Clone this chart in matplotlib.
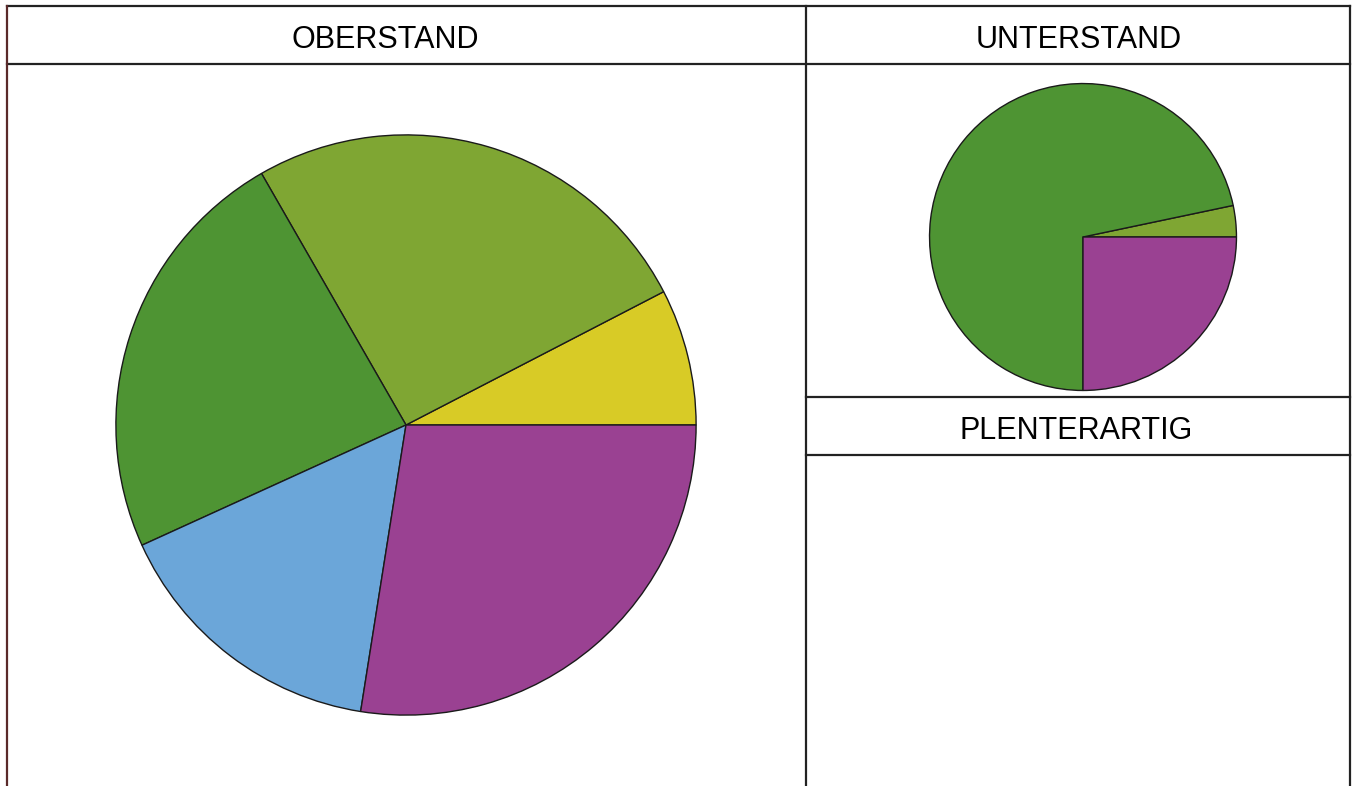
import matplotlib

matplotlib.use("Agg")

import matplotlib.pyplot as plt

plt.rcParams["font.family"] = ["Liberation Sans", "DejaVu Sans"]

W, H = 1354, 786

# shares in percent, counterclockwise from 3 o'clock
ober_labels = ["gelb", "hellgruen", "dunkelgruen", "blau", "violett"]
ober_values = [7.6, 25.7, 23.5, 15.7, 27.5]
ober_colors = ["#d8cb26", "#7fa633", "#4e9433", "#6ba6d9", "#9a4192"]

unter_labels = ["hellgruen", "dunkelgruen", "violett"]
unter_values = [3.3, 71.7, 25.0]
unter_colors = ["#7fa633", "#4e9433", "#9a4192"]

panel_titles = ["OBERSTAND", "UNTERSTAND", "PLENTERARTIG"]


def px_axes(fig, cx, cy, r):
    # square axes centred on pixel (cx, cy) with radius r
    return fig.add_axes([(cx - r) / W, 1 - (cy + r) / H, 2 * r / W, 2 * r / H])


def draw_pie(ax, values, colors):
    ax.pie(values, colors=colors, startangle=0, counterclock=True,
           wedgeprops=dict(edgecolor="#1a1a1a", linewidth=1.0))
    ax.set_xlim(-1.01, 1.01)
    ax.set_ylim(-1.01, 1.01)
    ax.set_aspect("equal")
    ax.axis("off")


fig = plt.figure(figsize=(W / 100, H / 100), dpi=100)

# frame in pixel coordinates
bg = fig.add_axes([0, 0, 1, 1])
bg.set_xlim(0, W)
bg.set_ylim(H, 0)
bg.axis("off")
lc = "#222222"
lw = 1.6
bg.plot([7, 1350], [6, 6], color=lc, lw=lw)
bg.plot([7, 1350], [64, 64], color=lc, lw=lw)
bg.plot([7, 7], [6, H], color="#5a2a2a", lw=lw)
bg.plot([806, 806], [6, H], color=lc, lw=lw)
bg.plot([1350, 1350], [6, H], color=lc, lw=lw)
bg.plot([806, 1350], [397, 397], color=lc, lw=lw)
bg.plot([806, 1350], [455, 455], color=lc, lw=lw)

bg.text(385, 40, panel_titles[0], ha="center", va="center", fontsize=22)
bg.text(1079, 40, panel_titles[1], ha="center", va="center", fontsize=22)
bg.text(1076, 431, panel_titles[2], ha="center", va="center", fontsize=22)

ax1 = px_axes(fig, 406, 425, 293)
draw_pie(ax1, ober_values, ober_colors)

ax2 = px_axes(fig, 1083, 237, 155)
draw_pie(ax2, unter_values, unter_colors)

fig.savefig("out.png", dpi=100)
